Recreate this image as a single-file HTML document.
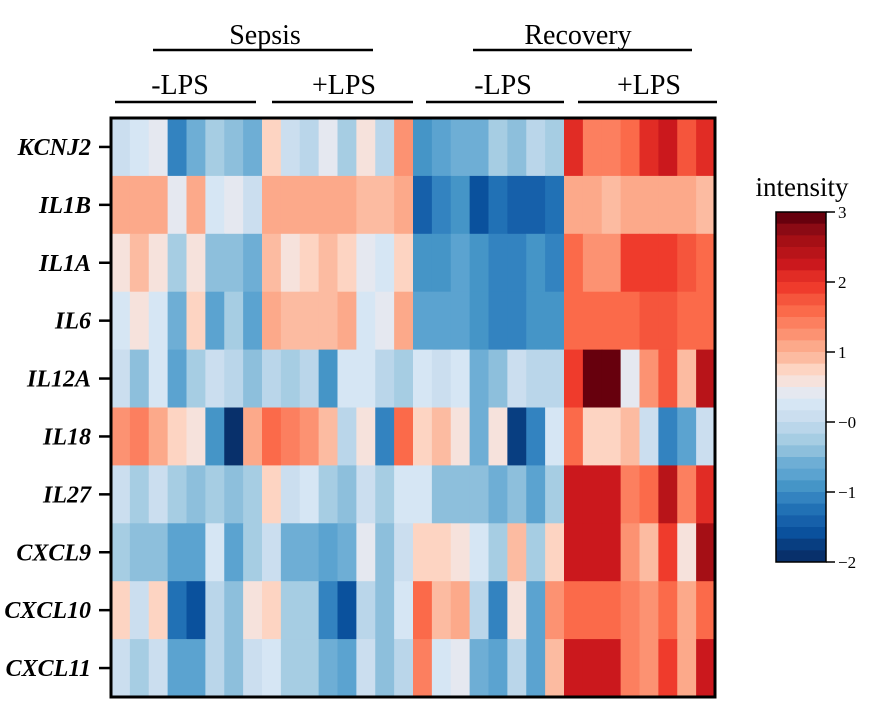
<!DOCTYPE html>
<html><head><meta charset="utf-8"><style>
html,body{margin:0;padding:0;background:#fff;}
svg{display:block;}
svg text{font-family:"Liberation Serif","Times New Roman","DejaVu Serif",serif;}
</style></head><body>
<svg id="chart" width="892" height="726" font-family="Liberation Serif, serif">
<g>
<text x="265" y="44" font-size="28" text-anchor="middle">Sepsis</text>
<line x1="153" y1="50" x2="373" y2="50" stroke="#000" stroke-width="2.5"/>
<text x="578" y="44" font-size="28" text-anchor="middle">Recovery</text>
<line x1="473" y1="50" x2="692" y2="50" stroke="#000" stroke-width="2.5"/>
<text x="180" y="94" font-size="28" text-anchor="middle">-LPS</text>
<line x1="115" y1="102" x2="256" y2="102" stroke="#000" stroke-width="2.5"/>
<text x="344" y="94" font-size="28" text-anchor="middle">+LPS</text>
<line x1="272" y1="102" x2="413" y2="102" stroke="#000" stroke-width="2.5"/>
<text x="503" y="94" font-size="28" text-anchor="middle">-LPS</text>
<line x1="426" y1="102" x2="564" y2="102" stroke="#000" stroke-width="2.5"/>
<text x="649" y="94" font-size="28" text-anchor="middle">+LPS</text>
<line x1="578" y1="102" x2="717" y2="102" stroke="#000" stroke-width="2.5"/>
</g>
<g id="cells"></g>
<g id="rowlabels"></g>
<rect x="111" y="118" width="604" height="579" fill="none" stroke="#000" stroke-width="3"/>
<text x="802" y="196" font-size="27" text-anchor="middle">intensity</text>
<g id="cbar"></g>
</svg>
<script>
const genes = ["KCNJ2","IL1B","IL1A","IL6","IL12A","IL18","IL27","CXCL9","CXCL10","CXCL11"];
const colorbarTicks = [3,2,1,0,-1,-2];
const colorbarTickLabels = ["3","2","1","\u22120","\u22121","\u22122"];
const rowKCNJ2 = [0.08,0.25,0.42,-1.08,-0.58,-0.25,-0.42,-0.58,0.75,0.08,-0.08,0.42,-0.25,0.58,-0.08,1.25,-0.92,-0.75,-0.58,-0.58,-0.25,-0.42,-0.08,-0.25,2.08,1.42,1.42,1.58,2.08,2.25,1.75,2.08];
const rowIL1B = [1.08,1.08,1.08,0.42,1.08,0.25,0.42,0.08,1.08,1.08,1.08,1.08,1.08,0.92,0.92,1.08,-1.42,-1.08,-0.92,-1.58,-1.25,-1.42,-1.42,-1.25,1.08,1.08,0.92,1.08,1.08,1.08,1.08,0.92];
const rowIL1A = [0.58,0.92,0.58,-0.25,0.58,-0.42,-0.42,-0.58,0.92,0.58,0.75,0.92,0.75,0.42,0.25,0.75,-0.92,-0.92,-0.75,-0.92,-1.08,-1.08,-0.92,-1.08,1.58,1.25,1.25,1.92,1.92,1.92,1.75,1.58];
const rowIL6 = [0.25,0.58,0.25,-0.58,0.75,-0.75,-0.25,-0.75,1.08,0.92,0.92,0.92,1.08,0.25,0.42,1.08,-0.75,-0.75,-0.75,-0.92,-1.08,-1.08,-0.92,-0.92,1.58,1.58,1.58,1.58,1.75,1.75,1.58,1.58];
const rowIL12A = [0.08,-0.42,0.25,-0.75,-0.25,0.08,-0.08,-0.42,-0.08,-0.25,-0.08,-0.92,0.25,0.25,-0.08,-0.25,0.25,0.08,0.25,-0.58,-0.42,0.08,-0.08,-0.08,1.92,2.92,2.92,0.42,1.25,1.75,0.92,2.42];
const rowIL18 = [1.25,1.42,1.08,0.75,0.58,-0.92,-1.92,1.08,1.58,1.42,1.25,0.92,-0.08,0.58,-1.08,1.58,0.75,0.92,0.58,-0.58,0.58,-1.75,-1.08,0.25,1.58,0.75,0.75,0.92,0.08,-1.08,-0.75,0.08];
const rowIL27 = [0.08,-0.25,0.08,-0.25,-0.42,-0.25,-0.42,-0.25,0.75,0.08,0.25,-0.25,-0.42,0.08,-0.25,0.25,0.25,-0.42,-0.42,-0.42,-0.58,-0.42,-0.75,-0.25,2.25,2.25,2.25,1.42,1.58,2.42,1.42,2.08];
const rowCXCL9 = [-0.25,-0.42,-0.42,-0.75,-0.75,0.25,-0.75,-0.25,0.08,-0.58,-0.58,-0.75,-0.58,0.42,-0.42,0.08,0.75,0.75,0.58,0.25,-0.25,0.92,-0.25,0.75,2.25,2.25,2.25,1.25,0.92,1.92,0.58,2.58];
const rowCXCL10 = [0.75,0.08,0.75,-1.25,-1.58,-0.08,-0.42,0.58,0.75,-0.25,-0.25,-1.08,-1.58,-0.08,-0.42,0.25,1.58,0.92,1.08,-0.08,-1.08,0.58,-0.75,1.25,1.58,1.58,1.58,1.42,1.25,1.58,1.08,1.58];
const rowCXCL11 = [0.08,-0.25,0.08,-0.75,-0.75,-0.08,-0.42,0.08,0.25,-0.25,-0.25,-0.58,-0.75,0.08,-0.42,-0.08,1.42,0.25,0.42,-0.58,-0.75,-0.08,-0.75,0.92,2.25,2.25,2.25,1.42,1.25,1.92,1.08,2.25];
const values = [rowKCNJ2,rowIL1B,rowIL1A,rowIL6,rowIL12A,rowIL18,rowIL27,rowCXCL9,rowCXCL10,rowCXCL11];

const palette = ["#67000d","#8b0a14","#a50f15","#b81419","#cb181d","#e12c25","#ef3b2c","#f5553c","#fb6a4a","#fc7f5f","#fc9272","#fca98a","#fcbba1","#fdd4c2","#f6e2dc","#e5e8f0","#d6e6f4","#cbdeef","#bad6ea","#a6cde3","#8dbfdc","#6eaed5","#5ba3d0","#4595c7","#3383c0","#2171b5","#1660aa","#0a519d","#083e81","#08306b"];
const vmax = 3, vmin = -2;
function color(v){let i=Math.floor((vmax-v)*palette.length/(vmax-vmin));i=Math.max(0,Math.min(palette.length-1,i));return palette[i];}
const X0=111,X1=715,Y0=118,Y1=697;
const nCols = values[0].length;
function xPos(c){return X0+(X1-X0)*c/nCols;}
function yPos(r){return Y0+(Y1-Y0)*r/genes.length;}
const NS="http://www.w3.org/2000/svg";
const FONT="Liberation Serif, serif";
const cells=document.getElementById('cells');
values.forEach((row,r)=>{row.forEach((v,c)=>{
 const el=document.createElementNS(NS,'rect');
 el.setAttribute('x',xPos(c));el.setAttribute('y',yPos(r));
 el.setAttribute('width',xPos(c+1)-xPos(c)+0.5);el.setAttribute('height',yPos(r+1)-yPos(r)+0.5);
 el.setAttribute('fill',color(v));
 
 
 cells.appendChild(el);
});});
const rl=document.getElementById('rowlabels');
genes.forEach((g,r)=>{
 const yc=(yPos(r)+yPos(r+1))/2;
 const t=document.createElementNS(NS,'text');
 t.setAttribute('x',91);t.setAttribute('y',yc+8);
 t.setAttribute('text-anchor','end');t.setAttribute('font-size','24');
 t.setAttribute('font-family',FONT);
 t.setAttribute('font-weight','bold');t.setAttribute('font-style','italic');
 t.textContent=g;
 
 
 rl.appendChild(t);
 const l=document.createElementNS(NS,'line');
 l.setAttribute('x1',99);l.setAttribute('x2',111);l.setAttribute('y1',yc);l.setAttribute('y2',yc);
 l.setAttribute('stroke','#000');l.setAttribute('stroke-width','2.5');
 
 
 rl.appendChild(l);
});
const cb=document.getElementById('cbar');
const CX=776,CW=50,CY0=212,CY1=562;
function cbY(v){return CY0+(vmax-v)*(CY1-CY0)/(vmax-vmin);}
palette.forEach((col,i)=>{
 const v=vmax-i*(vmax-vmin)/palette.length;
 const r=document.createElementNS(NS,'rect');
 r.setAttribute('x',CX);r.setAttribute('y',cbY(v));r.setAttribute('width',CW);
 r.setAttribute('height',(CY1-CY0)/palette.length+0.5);r.setAttribute('fill',col);
 
 
 cb.appendChild(r);
});
const fr=document.createElementNS(NS,'rect');
fr.setAttribute('x',CX);fr.setAttribute('y',CY0);fr.setAttribute('width',CW);fr.setAttribute('height',CY1-CY0);
fr.setAttribute('fill','none');fr.setAttribute('stroke','#000');fr.setAttribute('stroke-width','1.5');


cb.appendChild(fr);
colorbarTicks.forEach((v,i)=>{
 const y=cbY(v);
 const l=document.createElementNS(NS,'line');
 l.setAttribute('x1',CX+CW);l.setAttribute('x2',CX+CW+9);l.setAttribute('y1',y);l.setAttribute('y2',y);
 l.setAttribute('stroke','#000');l.setAttribute('stroke-width','1.5');
 
 
 cb.appendChild(l);
 const t=document.createElementNS(NS,'text');
 t.setAttribute('x',CX+CW+12);t.setAttribute('y',y+6);t.setAttribute('font-size','17');
 t.setAttribute('font-family',FONT);
 t.textContent=colorbarTickLabels[i];
 
 
 cb.appendChild(t);
});
</script>
</body></html>
